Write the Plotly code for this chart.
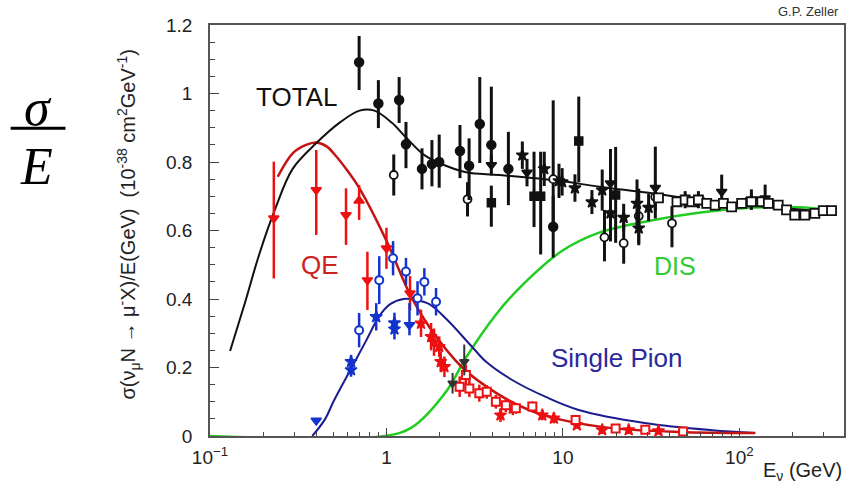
import plotly.graph_objects as go

# ---------------- curves (E in GeV, sigma/E) ----------------
total_E = [0.13, 0.158, 0.19, 0.233, 0.294, 0.402, 0.543, 0.704, 0.855, 1.07, 1.30, 1.64, 1.99, 2.83, 4.35, 9.5, 16.0, 30.6, 73, 173, 331]
total_v = [0.248, 0.39, 0.53, 0.66, 0.78, 0.856, 0.915, 0.95, 0.95, 0.915, 0.87, 0.82, 0.797, 0.77, 0.762, 0.745, 0.728, 0.71, 0.683, 0.666, 0.654]

qe_E = [0.242, 0.295, 0.35, 0.401, 0.46, 0.52, 0.60, 0.703, 0.996, 1.35, 1.75, 2.69, 4.18, 6.43, 9.86, 18.9, 45.2, 123]
qe_v = [0.757, 0.826, 0.85, 0.857, 0.845, 0.816, 0.775, 0.723, 0.572, 0.417, 0.318, 0.20, 0.126, 0.076, 0.047, 0.023, 0.012, 0.009]

pion_E = [0.38, 0.45, 0.50, 0.62, 0.77, 0.91, 1.05, 1.25, 1.45, 1.75, 2.2, 3.0, 3.7, 5.1, 8.0, 12.3, 29, 70, 123]
pion_v = [0.0, 0.05, 0.10, 0.19, 0.28, 0.35, 0.385, 0.40, 0.398, 0.385, 0.34, 0.265, 0.215, 0.165, 0.114, 0.076, 0.038, 0.017, 0.009]

dis_E = [0.1, 0.974, 1.40, 2.18, 2.83, 4.18, 5.87, 9.86, 15.9, 30.6, 58.6, 110, 215, 340]
dis_v = [0.0, 0.0, 0.026, 0.13, 0.23, 0.355, 0.44, 0.54, 0.593, 0.628, 0.652, 0.666, 0.668, 0.66]

# ---------------- TOTAL data (black) ----------------
bk_fc_E = [0.70, 0.90, 1.18, 1.29, 1.59, 1.81, 1.99, 2.61, 2.94, 3.38, 3.93, 4.91, 8.81]
bk_fc_v = [1.091, 0.971, 0.981, 0.852, 0.780, 0.794, 0.800, 0.832, 0.789, 0.911, 0.850, 0.780, 0.611]
bk_fc_up = [0.077, 0.068, 0.067, 0.065, 0.06, 0.07, 0.08, 0.076, 0.08, 0.137, 0.17, 0.108, 0.09]
bk_fc_dn = [0.081, 0.072, 0.067, 0.070, 0.06, 0.065, 0.075, 0.079, 0.10, 0.114, 0.06, 0.106, 0.09]

bk_oc_E = [1.10, 2.88, 8.81, 17.2, 22.1, 26.9, 33.4, 41.5]
bk_oc_v = [0.762, 0.691, 0.750, 0.580, 0.563, 0.642, 0.698, 0.621]
bk_oc_up = [0.06, 0.05, 0.23, 0.08, 0.06, 0.08, 0.04, 0.05]
bk_oc_dn = [0.06, 0.05, 0.14, 0.07, 0.06, 0.08, 0.04, 0.07]

bk_fs_E = [3.93, 6.86, 7.48, 12.3, 19.9]
bk_fs_v = [0.681, 0.700, 0.700, 0.861, 0.704]
bk_fs_up = [0.05, 0.13, 0.13, 0.13, 0.14]
bk_fs_dn = [0.07, 0.09, 0.17, 0.12, 0.14]

bk_td_E = [3.93, 6.26, 18.6, 33.4, 79.4, 140]
bk_td_v = [0.791, 0.769, 0.738, 0.725, 0.713, 0.694]
bk_td_up = [0.03, 0.04, 0.10, 0.12, 0.05, 0.04]
bk_td_dn = [0.03, 0.04, 0.17, 0.09, 0.03, 0.03]

bk_st_E = [5.89, 7.84, 9.5, 9.9, 11.7, 14.6, 16.7, 18.6, 22.1, 26.3, 26.9, 30.6, 49.3, 58.6, 117]
bk_st_v = [0.82, 0.78, 0.745, 0.742, 0.724, 0.683, 0.718, 0.651, 0.638, 0.679, 0.607, 0.667, 0.690, 0.690, 0.690]
bk_st_err = [0.04, 0.05, 0.05, 0.04, 0.04, 0.035, 0.06, 0.05, 0.04, 0.07, 0.05, 0.04, 0.025, 0.025, 0.03]

bk_os_E = [34.8, 44.3, 49.3, 53.8, 58.6, 65.3, 72.9, 81.2, 90.4, 103, 117, 134, 146, 166, 185, 206, 235, 268, 299, 333]
bk_os_v = [0.695, 0.684, 0.689, 0.684, 0.689, 0.679, 0.674, 0.679, 0.669, 0.679, 0.684, 0.684, 0.679, 0.674, 0.660, 0.645, 0.645, 0.650, 0.658, 0.658]

dk_td_E = [2.37, 2.76]
dk_td_v = [0.154, 0.217]
dk_td_up = [0.03, 0.05]
dk_td_dn = [0.03, 0.04]

# ---------------- QE data (red) ----------------
rd_td_E = [0.23, 0.40, 0.59, 0.78, 1.00, 1.36]
rd_td_v = [0.636, 0.718, 0.645, 0.455, 0.548, 0.417]
rd_td_up = [0.165, 0.117, 0.078, 0.083, 0.06, 0.05]
rd_td_dn = [0.176, 0.131, 0.087, 0.087, 0.06, 0.05]

rd_tu_E = [0.70]
rd_tu_v = [0.687]
rd_tu_up = [0.046]
rd_tu_dn = [0.056]

rd_st_E = [1.57, 1.79, 1.86, 1.99, 2.03, 2.13, 4.43, 5.2, 7.64, 8.89, 12.0, 16.7, 23.6, 34.8]
rd_st_v = [0.329, 0.29, 0.274, 0.261, 0.217, 0.202, 0.061, 0.081, 0.061, 0.052, 0.032, 0.018, 0.018, 0.015]
rd_st_err = [0.04, 0.04, 0.04, 0.03, 0.03, 0.03, 0.02, 0.02, 0.015, 0.015, 0.01, 0.008, 0.008, 0.006]

rd_os_E = [2.6, 2.82, 2.95, 3.36, 3.7, 4.17, 4.75, 5.41, 6.71, 11.8, 19.9, 29.3, 48.0]
rd_os_v = [0.144, 0.178, 0.139, 0.125, 0.129, 0.10, 0.09, 0.081, 0.086, 0.047, 0.022, 0.018, 0.013]
rd_os_err = [0.03, 0.03, 0.025, 0.025, 0.02, 0.02, 0.02, 0.015, 0.015, 0.01, 0.008, 0.006, 0.005]

# ---------------- Single pion data (blue) ----------------
bl_oc_E = [0.70, 0.91, 1.09, 1.29, 1.50, 1.64, 1.91]
bl_oc_v = [0.309, 0.455, 0.519, 0.480, 0.402, 0.450, 0.392]
bl_oc_err = [0.05, 0.07, 0.05, 0.04, 0.05, 0.04, 0.04]

bl_st_E = [0.63, 0.63, 0.875, 1.11, 1.11]
bl_st_v = [0.217, 0.193, 0.348, 0.33, 0.312]
bl_st_err = [0.02, 0.02, 0.04, 0.03, 0.03]

bl_td_E = [0.40, 1.35]
bl_td_v = [0.045, 0.324]
bl_td_up = [0.0, 0.064]
bl_td_dn = [0.0, 0.03]

# tick labels
x_tickvals = [0.1, 1, 10, 100]
x_ticktext = ["10<sup>−1</sup>", "1", "10", "10<sup>2</sup>"]
y_tickvals = [0, 0.2, 0.4, 0.6, 0.8, 1.0, 1.2]
y_ticktext = ["0", "0.2", "0.4", "0.6", "0.8", "1", "1.2"]

BLACK = "#111111"
RED_LINE = "#c41414"
RED_PT = "#ee1111"
BLUE_LINE = "#1c1c8e"
BLUE_PT = "#1234cc"
GREEN = "#22cc22"
FONT = "Liberation Sans"

fig = go.Figure()

def curve(x, y, color, width):
    fig.add_trace(go.Scatter(x=x, y=y, mode="lines", line=dict(color=color, width=width, shape="spline", smoothing=1.0),
                             hoverinfo="skip", showlegend=False))

curve(dis_E, dis_v, GREEN, 2.5)
curve(pion_E, pion_v, BLUE_LINE, 2)
curve(qe_E, qe_v, RED_LINE, 2.5)
curve(total_E, total_v, BLACK, 2)

def pts(x, y, up, dn, symbol, color, fill, size, ethick, lw=1.5):
    fig.add_trace(go.Scatter(
        x=x, y=y, mode="markers",
        marker=dict(symbol=symbol, size=size, color=fill, line=dict(color=color, width=lw)),
        error_y=dict(type="data", symmetric=False, array=up, arrayminus=dn, thickness=ethick, width=0, color=color),
        showlegend=False))

# red QE data
pts(rd_td_E, rd_td_v, rd_td_up, rd_td_dn, "triangle-down", RED_PT, RED_PT, 9, 2.5)
pts(rd_tu_E, rd_tu_v, rd_tu_up, rd_tu_dn, "triangle-up", RED_PT, RED_PT, 9, 2.5)
pts(rd_st_E, rd_st_v, rd_st_err, rd_st_err, "star", RED_PT, RED_PT, 9, 2.5)
pts(rd_os_E, rd_os_v, rd_os_err, rd_os_err, "square", RED_PT, "white", 8, 2.5, 2)
pts(dk_td_E, dk_td_v, dk_td_up, dk_td_dn, "triangle-down", "#333333", "#333333", 8, 2)

# blue single pion data
pts(bl_oc_E, bl_oc_v, bl_oc_err, bl_oc_err, "circle", BLUE_PT, "white", 8, 2.5, 2)
pts(bl_st_E, bl_st_v, bl_st_err, bl_st_err, "star", BLUE_PT, BLUE_PT, 9, 2.5)
pts(bl_td_E, bl_td_v, bl_td_up, bl_td_dn, "triangle-down", BLUE_PT, BLUE_PT, 9, 2.5)

# black total data
pts(bk_oc_E, bk_oc_v, bk_oc_up, bk_oc_dn, "circle", BLACK, "white", 8, 3, 1.8)
pts(bk_fc_E, bk_fc_v, bk_fc_up, bk_fc_dn, "circle", BLACK, BLACK, 9, 3)
pts(bk_fs_E, bk_fs_v, bk_fs_up, bk_fs_dn, "square", BLACK, BLACK, 8, 3)
pts(bk_td_E, bk_td_v, bk_td_up, bk_td_dn, "triangle-down", BLACK, BLACK, 9, 3)
pts(bk_st_E, bk_st_v, bk_st_err, bk_st_err, "star", BLACK, BLACK, 9, 3)
fig.add_trace(go.Scatter(x=bk_os_E, y=bk_os_v, mode="markers",
                         marker=dict(symbol="square", size=9, color="white", line=dict(color=BLACK, width=1.8)),
                         showlegend=False))

fig.update_layout(
    width=848, height=484,
    margin=dict(l=210, r=2, t=25, b=48),
    paper_bgcolor="white", plot_bgcolor="white",
    font=dict(family=FONT, color="#222222", size=18),
    showlegend=False,
)

fig.update_xaxes(
    type="log", range=[-1, 2.593],
    tickmode="array", tickvals=x_tickvals, ticktext=x_ticktext,
    ticks="inside", ticklen=8, tickwidth=1.3, tickcolor="#444",
    minor=dict(tickvals=[0.2, 0.3, 0.4, 0.5, 0.6, 0.7, 0.8, 0.9, 2, 3, 4, 5, 6, 7, 8, 9,
                         20, 30, 40, 50, 60, 70, 80, 90, 200, 300],
               ticks="inside", ticklen=4, tickwidth=1.2, tickcolor="#444", showgrid=False),
    showline=True, linecolor="#555", linewidth=1.5, mirror=True,
    showgrid=False, zeroline=False,
    tickfont=dict(size=19, family=FONT, color="#222"),
    ticklabelstandoff=3,
)
fig.update_yaxes(
    range=[0, 1.2],
    tickmode="array", tickvals=y_tickvals, ticktext=y_ticktext,
    ticks="inside", ticklen=9, tickwidth=1.3, tickcolor="#444",
    minor=dict(tickvals=[0.05, 0.1, 0.15, 0.25, 0.3, 0.35, 0.45, 0.5, 0.55, 0.65, 0.7, 0.75,
                         0.85, 0.9, 0.95, 1.05, 1.1, 1.15],
               ticks="inside", ticklen=5, tickwidth=1.2, tickcolor="#444", showgrid=False),
    showline=True, linecolor="#555", linewidth=1.5, mirror=True,
    showgrid=False, zeroline=False,
    tickfont=dict(size=19, family=FONT, color="#222"),
    ticklabelstandoff=12,
)

ann = []
ann.append(dict(text="σ(ν<sub>μ</sub>N → μ<sup>-</sup>X)/E(GeV)  (10<sup>-38</sup> cm<sup>2</sup>GeV<sup>-1</sup>)",
                xref="paper", yref="paper", x=(128 - 210) / 636, y=0.515, xanchor="center", yanchor="middle",
                textangle=-90, showarrow=False, font=dict(size=20, family=FONT, color="#222")))
ann.append(dict(text="E<sub>ν</sub> (GeV)", xref="paper", yref="paper", x=1.0, y=-0.05,
                xanchor="right", yanchor="top", showarrow=False, font=dict(size=20, family=FONT, color="#222")))
ann.append(dict(text="G.P. Zeller", xref="paper", yref="paper", x=0.995, y=1.01,
                xanchor="right", yanchor="bottom", showarrow=False, font=dict(size=13, family=FONT, color="#333")))
ann.append(dict(text="TOTAL", x=-0.508, y=0.99, xref="x", yref="y", showarrow=False,
                font=dict(size=26, family=FONT, color=BLACK)))
ann.append(dict(text="QE", x=-0.379, y=0.50, xref="x", yref="y", showarrow=False,
                font=dict(size=26, family=FONT, color="#cc2222")))
ann.append(dict(text="DIS", x=1.638, y=0.495, xref="x", yref="y", showarrow=False,
                font=dict(size=25, family=FONT, color="#2fcc2f")))
ann.append(dict(text="Single Pion", x=1.305, y=0.228, xref="x", yref="y", showarrow=False,
                font=dict(size=26, family=FONT, color="#2a2a9a")))
# sigma / E fraction
ann.append(dict(text="<i>σ</i>", xref="paper", yref="paper", x=(37 - 210) / 636, y=0.80,
                xanchor="center", yanchor="middle", showarrow=False,
                font=dict(size=52, family="Liberation Serif", color="black")))
ann.append(dict(text="<i>E</i>", xref="paper", yref="paper", x=(36 - 210) / 636, y=0.655,
                xanchor="center", yanchor="middle", showarrow=False,
                font=dict(size=52, family="Liberation Serif", color="black")))
fig.update_layout(annotations=ann)
fig.add_shape(type="line", xref="paper", yref="paper", x0=(10 - 210) / 636, x1=(65 - 210) / 636,
              y0=0.749, y1=0.749, line=dict(color="black", width=3))

fig.write_html("out.html")
